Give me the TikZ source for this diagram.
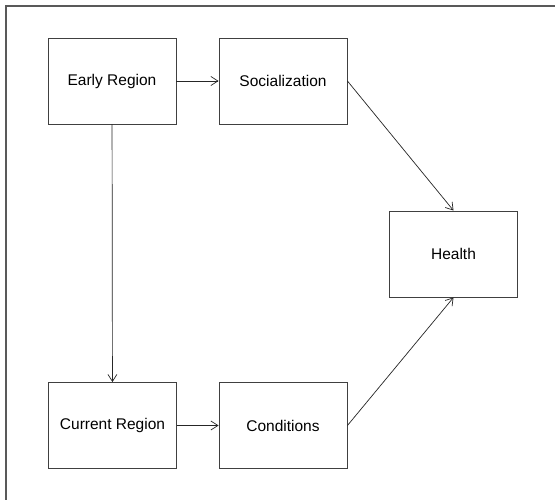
\documentclass[tikz,border=0pt]{standalone}
\usepackage{fontspec}
\setmainfont{Liberation Sans}
\usetikzlibrary{arrows.meta}
\begin{document}
\begin{tikzpicture}[x=1pt,y=-1pt,
  box/.style={draw=black!75,line width=0.9pt,minimum width=128pt,minimum height=86pt,inner sep=0pt,font=\fontsize{15.5}{18}\selectfont},
  conn/.style={draw=black!85,line width=0.7pt,-{Straight Barb[length=7pt,width=9pt,line width=0.7pt]}}]
\useasboundingbox (0,0) rectangle (555,500);
\fill[white] (0,0) rectangle (555,500);
\coordinate (fa) at (6,500);
\coordinate (fb) at (6,6);
\coordinate (fc) at (555,6);
\draw[black!65,line width=1.2pt] (fa) -- (fb) -- (fc);
\node[box] (early) at (112,81) {Early Region};
\node[box] (soc) at (283,81) {Socialization};
\node[box] (health) at (453.5,254) {Health};
\node[box] (cur) at (112.5,425.5) {Current Region};
\node[box] (cond) at (283,425.5) {Conditions};
\draw[conn] (early) -- (soc);
\draw[conn] (early) -- (cur);
\draw[conn] (cur) -- (cond);
\draw[conn] (soc.east) -- (health.north);
\draw[conn] (cond.east) -- (health.south);
\end{tikzpicture}
\end{document}
